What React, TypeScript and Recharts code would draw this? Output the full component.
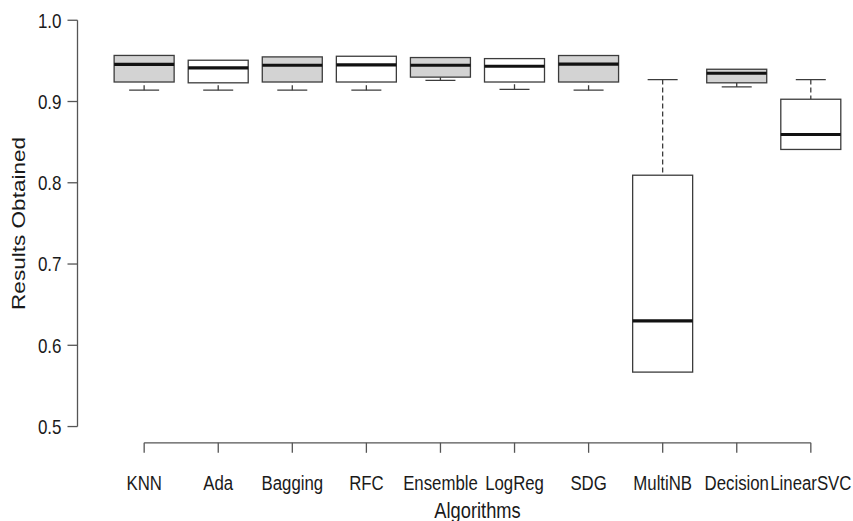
import React from "react";
import { Bar, ComposedChart, Label, ReferenceLine, XAxis, YAxis } from "recharts";

// accuracy spread per algorithm
const algorithms = ["KNN", "Ada", "Bagging", "RFC", "Ensemble", "LogReg", "SDG", "MultiNB", "Decision", "LinearSVC"];
const whiskerLow = [0.914, 0.914, 0.914, 0.914, 0.926, 0.915, 0.914, 0.567, 0.918, 0.841];
const lowerQuartile = [0.924, 0.923, 0.924, 0.924, 0.93, 0.924, 0.924, 0.567, 0.923, 0.841];
const medians = [0.9456, 0.9413, 0.9446, 0.945, 0.9446, 0.9434, 0.9459, 0.63, 0.9348, 0.8594];
const upperQuartile = [0.9567, 0.9508, 0.9549, 0.9557, 0.9541, 0.9528, 0.9566, 0.8093, 0.9397, 0.9028];
const whiskerHigh = [0.9567, 0.9508, 0.9549, 0.9557, 0.9541, 0.9528, 0.9566, 0.927, 0.9397, 0.927];
const yTicks = [0.5, 0.6, 0.7, 0.8, 0.9, 1.0];

const boxFills = ["#d3d3d3", "#ffffff", "#d3d3d3", "#ffffff", "#d3d3d3", "#ffffff", "#d3d3d3", "#ffffff", "#d3d3d3", "#ffffff"];

const data = algorithms.map((name, i) => ({
  pos: i + 1,
  name,
  low: whiskerLow[i],
  q1: lowerQuartile[i],
  median: medians[i],
  q3: upperQuartile[i],
  high: whiskerHigh[i],
}));
const xTicks = data.map((d) => d.pos);

const FONT = "'Liberation Sans', Arial, Helvetica, sans-serif";
const STRETCH = 1.2; // the source image is squashed horizontally
const AXIS = "#555";
const BOX = "#3c3c3c";
const INK = "#1a1a1a";

function BoxShape(props: any) {
  const { x, y, width, height, payload, index } = props;
  if (!payload) return null;
  const top = Math.min(y, y + height);
  const h = Math.abs(height);
  const { low, high, q1, q3, median } = payload;
  const py = (v: number) => (high === low ? top : top + ((high - v) / (high - low)) * h);
  const cx = x + width / 2;
  const cap = width / 4;
  const yLo = py(low), yQ1 = py(q1), yMed = py(median), yQ3 = py(q3), yHi = py(high);
  return (
    <g stroke={BOX} strokeWidth={1.3}>
      {yQ3 - yHi > 0.5 && (
        <>
          <line x1={cx} x2={cx} y1={yHi} y2={yQ3} strokeDasharray="5 3" />
          <line x1={cx - cap} x2={cx + cap} y1={yHi} y2={yHi} />
        </>
      )}
      {yLo - yQ1 > 0.5 && (
        <>
          <line x1={cx} x2={cx} y1={yLo} y2={yQ1} strokeDasharray="5 3" />
          <line x1={cx - cap} x2={cx + cap} y1={yLo} y2={yLo} />
        </>
      )}
      <rect x={x} y={yQ3} width={width} height={yQ1 - yQ3} fill={boxFills[index] ?? "#fff"} />
      <line x1={x} x2={x + width} y1={yMed} y2={yMed} stroke="#111" strokeWidth={3.2} />
    </g>
  );
}

function XTick({ x, y, payload }: any) {
  return (
    <g transform={`translate(${x},${y}) scale(1,1.25)`}>
      <text x={0} y={29.8} textAnchor="middle" fontSize={16.8} fontFamily={FONT} fill={INK}>
        {algorithms[payload.value - 1]}
      </text>
    </g>
  );
}

function YTick({ x, y, payload }: any) {
  return (
    <g transform={`translate(${x},${y}) scale(1,${STRETCH})`}>
      <text x={0} y={6.1} textAnchor="end" fontSize={17} fontFamily={FONT} fill={INK}>
        {Number(payload.value).toFixed(1)}
      </text>
    </g>
  );
}

const xTitle = (props: any) => {
  const vb = props.viewBox ?? { x: 0, y: 0, width: 0, height: 0 };
  return (
    <g transform={`translate(${vb.x + vb.width / 2},${vb.y + 75.2}) scale(1,${STRETCH})`}>
      <text textAnchor="middle" fontSize={18.3} fontFamily={FONT} fill={INK}>Algorithms</text>
    </g>
  );
};

const yTitle = (props: any) => {
  const vb = props.viewBox ?? { x: 0, y: 0, width: 0, height: 0 };
  return (
    <g transform={`translate(25,${vb.y + vb.height / 2}) rotate(-90) scale(1.22,1)`}>
      <text textAnchor="middle" fontSize={18.5} fontFamily={FONT} fill={INK}>Results Obtained</text>
    </g>
  );
};

export default function App() {
  return (
    <div style={{ position: "absolute", left: 0, top: 0, background: "#fff" }}>
      <ComposedChart width={853} height={521} data={data} margin={{ top: 4, right: -24.5, bottom: 0, left: 0 }}>
        <XAxis
          dataKey="pos"
          type="number"
          domain={[0.1, 10.9]}
          allowDataOverflow
          ticks={xTicks}
          interval={0}
          height={78.2}
          axisLine={false}
          tickSize={10}
          tickMargin={0}
          tickLine={{ stroke: AXIS, strokeWidth: 1.3 }}
          tick={<XTick />}
          label={<Label content={xTitle} />}
        />
        <YAxis
          type="number"
          domain={[0.48, 1.02]}
          allowDataOverflow
          ticks={yTicks}
          interval={0}
          width={77.5}
          axisLine={false}
          tickSize={10}
          tickMargin={6}
          tickLine={{ stroke: AXIS, strokeWidth: 1.3 }}
          tick={<YTick />}
          label={<Label content={yTitle} />}
        />
        <ReferenceLine
          segment={[{ x: 0.1, y: yTicks[0] }, { x: 0.1, y: yTicks[yTicks.length - 1] }]}
          stroke={AXIS}
          strokeWidth={1.3}
          ifOverflow="visible"
        />
        <ReferenceLine
          segment={[{ x: xTicks[0], y: 0.48 }, { x: xTicks[xTicks.length - 1], y: 0.48 }]}
          stroke={AXIS}
          strokeWidth={1.3}
          ifOverflow="visible"
        />
        <Bar dataKey={(d: any) => [d.low, d.high]} barSize={60} shape={<BoxShape />} isAnimationActive={false} />
      </ComposedChart>
    </div>
  );
}
